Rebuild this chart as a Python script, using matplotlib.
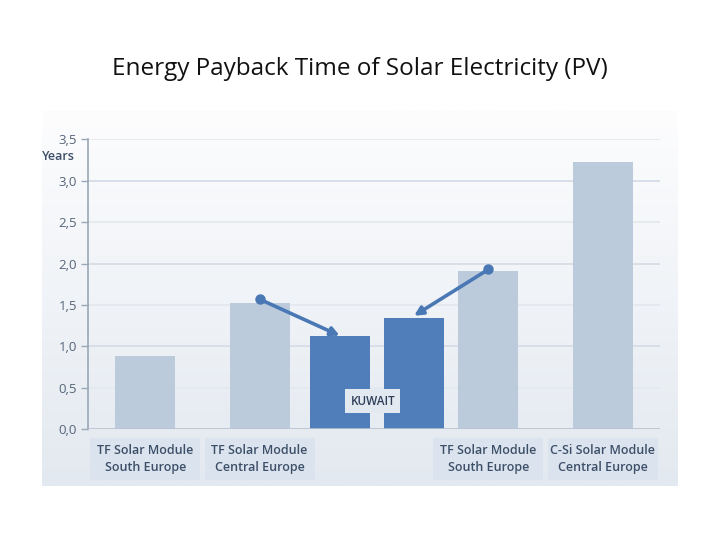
import numpy as np
import matplotlib
matplotlib.use("Agg")
import matplotlib.pyplot as plt
from matplotlib.patches import Rectangle
import matplotlib.transforms as mtransforms
from matplotlib.text import Text

plt.rcParams['font.family'] = ['Open Sans', 'DejaVu Sans']

# ---- data ----
title = "Energy Payback Time of Solar Electricity (PV)"
values = [0.88, 1.52, 1.13, 1.34, 1.91, 3.23]
highlight = [False, False, True, True, False, False]
category_labels = ["TF Solar Module\nSouth Europe", "TF Solar Module\nCentral Europe",
                   None, None,
                   "TF Solar Module\nSouth Europe", "C-Si Solar Module\nCentral Europe"]
yticks = [0.0, 0.5, 1.0, 1.5, 2.0, 2.5, 3.0, 3.5]
ytick_labels = ["0,0", "0,5", "1,0", "1,5", "2,0", "2,5", "3,0", "3,5"]
arrow_starts = [(1.5, 1.57), (3.5, 1.93)]
arrow_ends = [(2.2, 1.13), (2.85, 1.37)]
group_label = "KUWAIT"
unit_label = "Years"

# ---- layout ----
positions = [0.5, 1.5, 2.2, 2.85, 3.5, 4.5]
bar_width = 0.525
light = "#bccbdc"
dark = "#4f7ebb"
text_col = "#3d4f68"

W, H = 720, 540
fig = plt.figure(figsize=(7.2, 5.4), dpi=100)
fig.patch.set_facecolor("white")

# background gradient panel
bg = fig.add_axes([42 / W, (H - 486) / H, 636 / W, 376 / H])
grad = np.linspace(0, 1, 256).reshape(-1, 1)
top = np.array([0xfd, 0xfd, 0xfe]) / 255
bot = np.array([0xe3, 0xe9, 0xf0]) / 255
img = top[None, None, :] * (1 - grad[:, :, None]) + bot[None, None, :] * grad[:, :, None]
bg.imshow(img, aspect="auto", extent=[0, 1, 0, 1], origin="upper")
bg.set_axis_off()

ax = fig.add_axes([88 / W, (H - 429.3) / H, (660 - 88) / W, (429.3 - 139.3) / H])
ax.patch.set_alpha(0)
ax.set_xlim(0, 5)
ax.set_ylim(0, 3.5)

for y in yticks[1:]:
    c = "#d6dde6" if abs(y - round(y)) < 1e-6 else "#e4e9ef"
    ax.axhline(y, color=c, lw=1.3, zorder=0)

for p, v, h in zip(positions, values, highlight):
    ax.bar(p, v, width=bar_width, color=dark if h else light, zorder=2)

for s, e in zip(arrow_starts, arrow_ends):
    ax.annotate("", xy=e, xytext=s,
                arrowprops=dict(arrowstyle="-|>,head_length=0.5,head_width=0.25",
                                color="#4a78b5", lw=2.6, shrinkA=0, shrinkB=0),
                zorder=4)
    ax.plot([s[0]], [s[1]], "o", color="#4a78b5", ms=6.5, zorder=5)

ax.text(2.49, 0.34, group_label, ha="center", va="center", fontsize=8.5,
        color="#2f3f58", zorder=6, fontweight="semibold",
        bbox=dict(boxstyle="square,pad=0.45", fc="#e2e9f1", ec="none"))

ax.set_yticks(yticks)
ax.set_yticklabels(ytick_labels, fontsize=9.5, color="#56657a")
ax.set_xticks([])
ax.tick_params(axis="y", length=5, width=1, color="#9aa7b6", pad=3)
for s in ["top", "right", "bottom"]:
    ax.spines[s].set_visible(False)
ax.spines["left"].set_color("#9aa7b6")
ax.spines["left"].set_linewidth(1.2)
ax.axhline(0, color="#b8c3d0", lw=1.2, zorder=3)

fig.text(58 / W, 1 - 156 / H, unit_label, ha="center", va="center",
         fontsize=9, color="#3d4f68", fontweight="semibold")

# category label boxes
trans = mtransforms.blended_transform_factory(ax.transData, fig.transFigure)
box_w = 110 / 114.4
for p, lab in zip(positions, category_labels):
    if lab is None:
        continue
    rect = Rectangle((p - box_w / 2, 1 - 480 / H), box_w, 42 / H, transform=trans,
                     facecolor="#dbe4ee", edgecolor="none", clip_on=False, zorder=1)
    fig.add_artist(rect)
    t = Text(p, 1 - 459 / H, lab, transform=trans, ha="center", va="center",
             fontsize=9, color=text_col, linespacing=1.35, fontweight="semibold",
             clip_on=False, zorder=2)
    fig.add_artist(t)

fig.text(0.5, 1 - 69 / H, title, ha="center", va="center", fontsize=17.5, color="#111111")

fig.savefig("out.png", dpi=100)
